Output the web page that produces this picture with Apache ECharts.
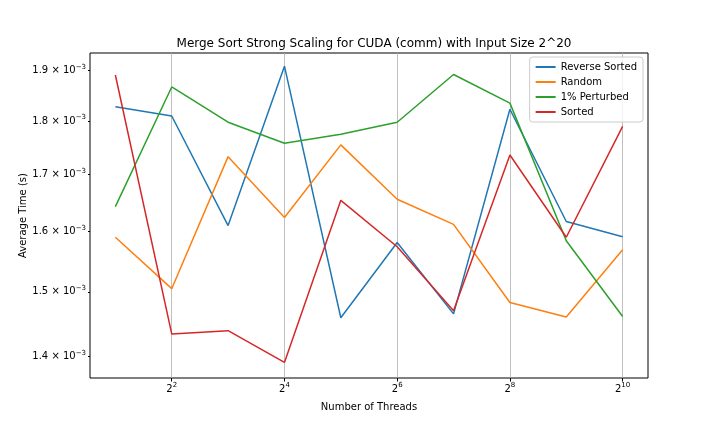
<!DOCTYPE html>
<html>
<head>
<meta charset="utf-8">
<script src="https://cdn.jsdelivr.net/npm/echarts@6/dist/echarts.min.js"></script>
<style>
    html, body { margin: 0; padding: 0; background: #fff; }
    #chart { width: 720px; height: 432px; }
</style>
</head>
<body>
<div id="chart"></div>
<script>
    // 线程数（2^1 .. 2^10）
    var threads = [2, 4, 8, 16, 32, 64, 128, 256, 512, 1024];
    // 平均时间 (s)
    var reverseSorted = [1.828e-3, 1.810e-3, 1.610e-3, 1.909e-3, 1.459e-3, 1.581e-3, 1.465e-3, 1.823e-3, 1.617e-3, 1.591e-3];
    var random = [1.590e-3, 1.505e-3, 1.733e-3, 1.624e-3, 1.755e-3, 1.656e-3, 1.612e-3, 1.483e-3, 1.460e-3, 1.569e-3];
    var perturbed = [1.643e-3, 1.867e-3, 1.798e-3, 1.758e-3, 1.775e-3, 1.798e-3, 1.892e-3, 1.835e-3, 1.584e-3, 1.461e-3];
    var sorted = [1.891e-3, 1.434e-3, 1.439e-3, 1.391e-3, 1.654e-3, 1.574e-3, 1.470e-3, 1.736e-3, 1.590e-3, 1.790e-3];
    // 刻度
    var xTicks = [4, 16, 64, 256, 1024];
    var xTickExp = ['2', '4', '6', '8', '10'];
    var yTicks = [1.4e-3, 1.5e-3, 1.6e-3, 1.7e-3, 1.8e-3, 1.9e-3];
    var yTickMant = ['1.4', '1.5', '1.6', '1.7', '1.8', '1.9'];

    var names = ['Reverse Sorted', 'Random', '1% Perturbed', 'Sorted'];
    var values = [reverseSorted, random, perturbed, sorted];
    var colors = ['#1f77b4', '#ff7f0e', '#2ca02c', '#d62728'];

    function pairs(ys) {
        return threads.map(function (t, i) { return [t, ys[i]]; });
    }
    function findTick(ticks, v) {
        for (var i = 0; i < ticks.length; i++) {
            if (Math.abs(ticks[i] - v) / ticks[i] < 1e-6) {
                return i;
            }
        }
        return -1;
    }

    var chart = echarts.init(document.getElementById('chart'));
    var font = 'DejaVu Sans';
    var supStyle = {
        b: { fontSize: 10, color: '#000', fontFamily: font },
        s: { fontSize: 7, color: '#000', fontFamily: font, padding: [0, 0, 7, 0] }
    };
    var option = {
        animation: false,
        textStyle: { fontFamily: font },
        color: colors,
        title: {
            text: 'Merge Sort Strong Scaling for CUDA (comm) with Input Size 2^20',
            left: 369,
            textAlign: 'center',
            top: 33,
            textStyle: { fontSize: 12, fontWeight: 'normal', color: '#000', fontFamily: font }
        },
        legend: {
            data: names,
            orient: 'vertical',
            right: 77,
            top: 57,
            icon: 'rect',
            itemWidth: 20,
            itemHeight: 2,
            itemGap: 5,
            padding: [5, 6, 5, 6],
            borderColor: '#ccc',
            borderWidth: 1,
            borderRadius: 3,
            backgroundColor: 'rgba(255,255,255,0.8)',
            textStyle: { fontSize: 10, color: '#000', fontFamily: font }
        },
        grid: {
            left: 90, right: 72, top: 53, bottom: 54,
            show: true,
            borderColor: '#000',
            borderWidth: 1
        },
        xAxis: {
            type: 'log',
            logBase: 4,
            min: Math.pow(2, 0.55),
            max: Math.pow(2, 10.45),
            name: 'Number of Threads',
            nameLocation: 'middle',
            nameGap: 24,
            nameMoveOverlap: false,
            nameTextStyle: { fontSize: 10, color: '#000', fontFamily: font },
            axisLine: { show: false },
            axisTick: { show: true, length: 3.5, inside: false, customValues: xTicks, lineStyle: { color: '#000' } },
            axisLabel: {
                customValues: xTicks,
                margin: 4,
                rich: supStyle,
                formatter: function (v) {
                    var i = findTick(xTicks, v);
                    return i < 0 ? '' : '{b|2}{s|' + xTickExp[i] + '}';
                }
            },
            splitLine: { show: true, lineStyle: { color: '#b0b0b0', width: 0.8 } }
        },
        yAxis: {
            type: 'log',
            logBase: 10,
            min: 1.368e-3,
            max: 1.936e-3,
            name: 'Average Time (s)',
            nameLocation: 'middle',
            nameGap: 62,
            nameMoveOverlap: false,
            nameTextStyle: { fontSize: 10, color: '#000', fontFamily: font },
            axisLine: { show: false },
            axisTick: { show: true, length: 2, customValues: yTicks, lineStyle: { color: '#000' } },
            axisLabel: {
                customValues: yTicks,
                margin: 4,
                rich: supStyle,
                formatter: function (v) {
                    var i = findTick(yTicks, v);
                    return i < 0 ? '' : '{b|' + yTickMant[i] + ' × 10}{s|−3}';
                }
            },
            splitLine: { show: false }
        },
        series: names.map(function (n, i) {
            return {
                name: n,
                type: 'line',
                data: pairs(values[i]),
                showSymbol: false,
                lineStyle: { width: 1.5, color: colors[i] },
                itemStyle: { color: colors[i] }
            };
        })
    };
    chart.setOption(option);
</script>
</body>
</html>
